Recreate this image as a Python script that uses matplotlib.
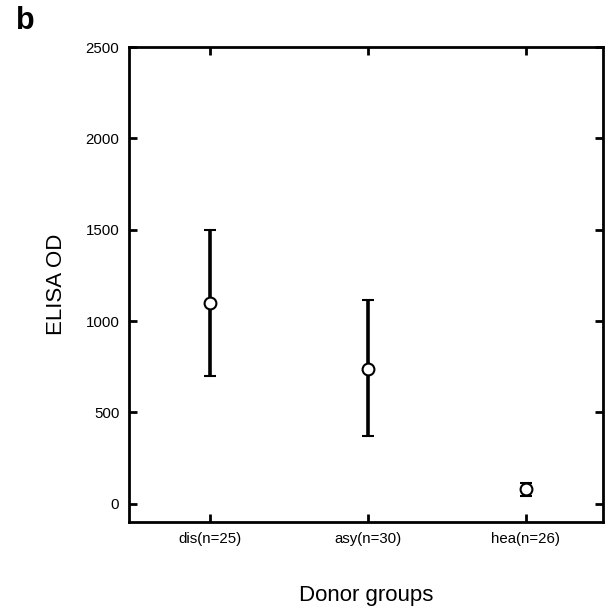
import matplotlib
matplotlib.use("Agg")
import matplotlib.pyplot as plt

groups = ["dis(n=25)", "asy(n=30)", "hea(n=26)"]
means = [1100, 740, 80]
upper = [1500, 1115, 115]
lower = [700, 372, 43]
yticks = [0, 500, 1000, 1500, 2000, 2500]

plt.rcParams['font.family'] = ['Liberation Sans', 'DejaVu Sans']

fig = plt.figure(figsize=(6.10, 6.09), dpi=100)
ax = fig.add_axes([0.2115, 0.1429, 0.777, 0.7799])

x = list(range(1, len(groups) + 1))
yerr = [[m - l for m, l in zip(means, lower)], [u - m for m, u in zip(means, upper)]]
ax.errorbar(x, means, yerr=yerr, fmt='o', color='black', ecolor='black',
            elinewidth=2.6, capsize=4, capthick=2.6,
            markerfacecolor='white', markeredgecolor='black',
            markersize=8.5, markeredgewidth=1.5, zorder=3)

ax.set_xlim(0.49, 3.49)
ax.set_ylim(-100, 2500)
ax.set_xticks(x)
ax.set_xticklabels(groups)
ax.set_yticks(yticks)

for s in ax.spines.values():
    s.set_linewidth(2.0)
ax.tick_params(direction='in', length=6, width=2, labelsize=10.8,
               top=True, right=True, pad=7)

ax.set_ylabel("ELISA OD", fontsize=16, labelpad=13)
ax.set_xlabel("Donor groups", fontsize=16, labelpad=28)

fig.text(0.026, 0.953, "b", fontsize=22, fontweight='bold', ha='left', va='baseline')

fig.savefig("out.png", dpi=100)
